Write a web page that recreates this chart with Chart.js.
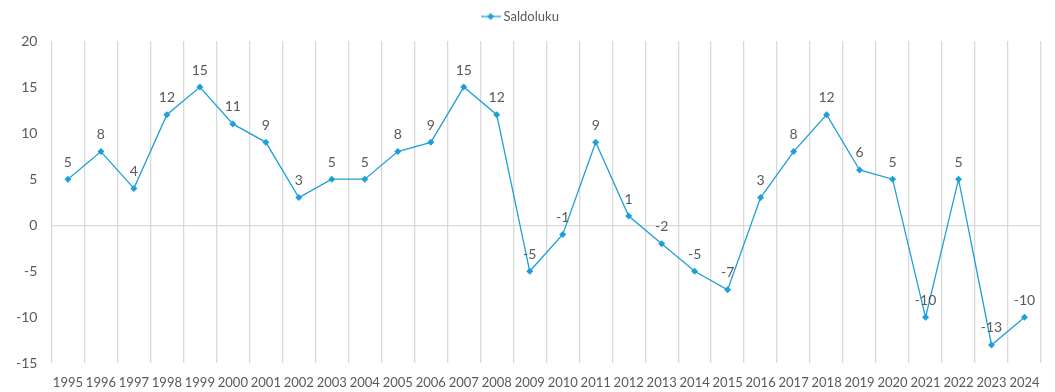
<!DOCTYPE html>
<html>
<head>
<meta charset="utf-8">
<script src="https://cdn.jsdelivr.net/npm/chart.js@4"></script>
<style>
  html, body { margin: 0; padding: 0; background: #fff; }
  #wrap { width: 1055px; height: 392px; }
</style>
</head>
<body>
<div id="wrap"><canvas id="saldo-chart" width="1055" height="392"></canvas></div>
<script>
var years = ['1995', '1996', '1997', '1998', '1999', '2000', '2001', '2002', '2003', '2004',
    '2005', '2006', '2007', '2008', '2009', '2010', '2011', '2012', '2013', '2014',
    '2015', '2016', '2017', '2018', '2019', '2020', '2021', '2022', '2023', '2024'];
var saldoluku = [5, 8, 4, 12, 15, 11, 9, 3, 5, 5,
    8, 9, 15, 12, -5, -1, 9, 1, -2, -5,
    -7, 3, 8, 12, 6, 5, -10, 5, -13, -10];
var seriesName = 'Saldoluku';

var lineColor = '#1f9fd8';
var textColor = '#595959';
var gridColor = '#d9d9d9';
var fontFamily = 'Lato, "Open Sans", sans-serif';

// legend symbol: short line with a diamond in the middle
function legendSymbol() {
    var c = document.createElement('canvas');
    c.width = 20;
    c.height = 10;
    var g = c.getContext('2d');
    g.strokeStyle = lineColor;
    g.lineWidth = 1.3;
    g.beginPath();
    g.moveTo(0, 5);
    g.lineTo(20, 5);
    g.stroke();
    g.fillStyle = lineColor;
    g.beginPath();
    g.moveTo(10, 1.5);
    g.lineTo(13.5, 5);
    g.lineTo(10, 8.5);
    g.lineTo(6.5, 5);
    g.closePath();
    g.fill();
    return c;
}

// extra gap between legend and plot
var legendGap = {
    id: 'legendGap',
    beforeInit: function (chart) {
        var origFit = chart.legend.fit;
        chart.legend.fit = function () {
            origFit.bind(chart.legend)();
            this.height += 8;
        };
    }
};

// value labels above each point
var valueLabels = {
    id: 'valueLabels',
    afterDatasetsDraw: function (chart) {
        var ctx = chart.ctx;
        var meta = chart.getDatasetMeta(0);
        var values = chart.data.datasets[0].data;
        ctx.save();
        ctx.fillStyle = textColor;
        ctx.font = '14px ' + fontFamily;
        ctx.textAlign = 'center';
        ctx.textBaseline = 'middle';
        meta.data.forEach(function (pt, i) {
            ctx.fillText(String(values[i]), pt.x, pt.y - 17);
        });
        ctx.restore();
    }
};

var config = {
    type: 'line',
    data: {
        labels: years,
        datasets: [
            {
                label: seriesName,
                data: saldoluku,
                borderColor: lineColor,
                backgroundColor: lineColor,
                borderWidth: 1.3,
                pointStyle: 'rectRot',
                pointRadius: 3.5,
                pointBorderWidth: 0,
                fill: false,
                tension: 0,
            },
        ]
    },
    options: {
        responsive: false,
        animation: false,
        layout: {
            padding: {left: 2, right: 14, top: 0, bottom: -11}
        },
        plugins: {
            legend: {
                display: true,
                position: 'top',
                labels: {
                    color: textColor,
                    font: {family: fontFamily, size: 13},
                    usePointStyle: true,
                    padding: 10,
                    generateLabels: function (chart) {
                        return [{
                            text: seriesName,
                            pointStyle: legendSymbol(),
                            fontColor: textColor,
                            datasetIndex: 0,
                        }];
                    }
                }
            },
            tooltip: {enabled: false},
        },
        scales: {
            x: {
                offset: true,
                grid: {
                    offset: true,
                    color: gridColor,
                    lineWidth: 1.3,
                    drawTicks: false,
                },
                border: {display: false},
                ticks: {
                    color: textColor,
                    font: {family: fontFamily, size: 13},
                    autoSkip: false,
                    maxRotation: 0,
                    padding: 12,
                },
            },
            y: {
                min: -15,
                max: 20,
                ticks: {
                    stepSize: 5,
                    color: textColor,
                    font: {family: fontFamily, size: 14},
                    padding: 14,
                },
                grid: {
                    drawTicks: false,
                    lineWidth: 1.3,
                    color: function (c) {
                        return c.tick && c.tick.value === 0 ? gridColor : 'rgba(0,0,0,0)';
                    },
                },
                border: {display: false},
            }
        }
    },
    plugins: [legendGap, valueLabels],
};

var ctx = document.getElementById('saldo-chart').getContext('2d');
window.saldoChart = new Chart(ctx, config);
</script>
</body>
</html>
